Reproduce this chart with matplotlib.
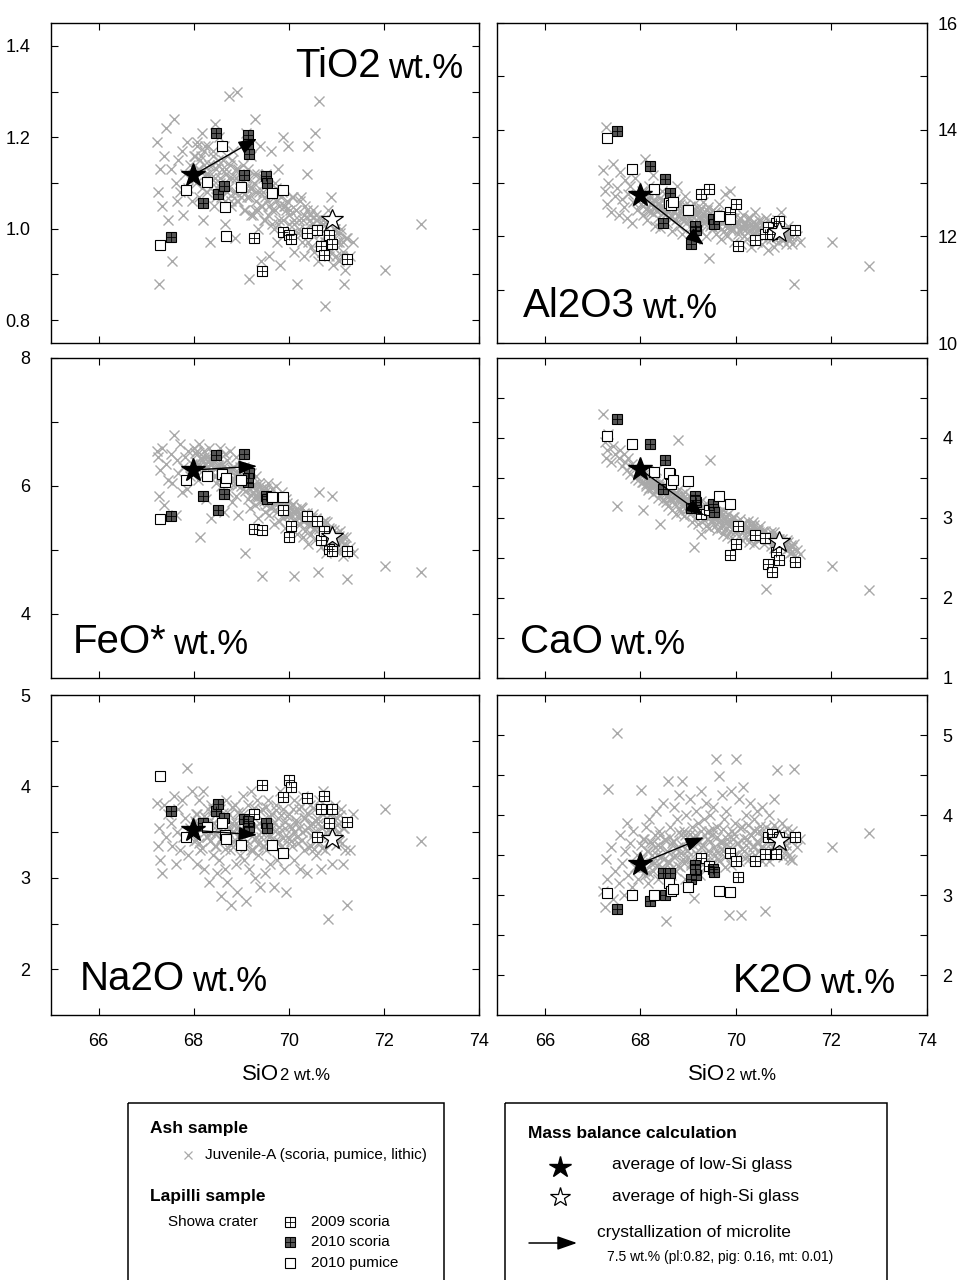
import matplotlib
matplotlib.use("Agg")
import matplotlib.pyplot as plt
from matplotlib.patches import Rectangle

plt.rcParams['font.family'] = ['Liberation Sans', 'DejaVu Sans']

# ---- Ash sample, Juvenile-A glass (grey crosses): scattered analyses ----
sio2_juv = [67.22, 67.25, 67.28, 67.30, 67.33, 67.38, 67.42, 67.47,
            67.52, 67.55, 67.58, 67.62, 67.65, 67.68, 67.72, 67.75, 67.78, 67.82, 67.85, 67.88, 67.92, 67.96,
            68.01, 68.04, 68.06, 68.09, 68.12, 68.14, 68.17, 68.19, 68.22, 68.25, 68.27, 68.30, 68.32, 68.35, 68.37, 68.40, 68.42, 68.45, 68.47, 68.49,
            68.51, 68.53, 68.56, 68.58, 68.60, 68.63, 68.65, 68.67, 68.70, 68.72, 68.74, 68.76, 68.79, 68.81, 68.83, 68.86, 68.88, 68.90, 68.92, 68.94, 68.96, 68.98,
            69.01, 69.03, 69.05, 69.08, 69.10, 69.12, 69.15, 69.17, 69.19, 69.21, 69.24, 69.26, 69.28, 69.31, 69.33, 69.35, 69.38, 69.40, 69.42, 69.44, 69.46, 69.49,
            69.51, 69.53, 69.56, 69.58, 69.61, 69.63, 69.65, 69.68, 69.70, 69.73, 69.75, 69.77, 69.80, 69.82, 69.85, 69.87, 69.90, 69.92, 69.95, 69.98,
            70.01, 70.04, 70.07, 70.10, 70.12, 70.15, 70.18, 70.21, 70.24, 70.27, 70.29, 70.32, 70.35, 70.38, 70.41, 70.44, 70.46, 70.49,
            70.52, 70.55, 70.58, 70.61, 70.64, 70.67, 70.70, 70.73, 70.76, 70.79, 70.82, 70.85, 70.88, 70.91, 70.94, 70.97,
            71.01, 71.05, 71.09, 71.13, 71.17, 71.22, 71.28, 71.34,
            72.02, 72.78]
tio2_juv = [1.19, 1.08, 0.88, 1.13, 1.05, 1.16, 1.22, 1.02,
            1.13, 0.93, 1.24, 1.10, 1.06, 1.15, 1.08, 1.17, 1.03, 1.12, 1.19, 1.09, 1.14, 1.06,
            1.16, 1.10, 1.19, 1.13, 1.07, 1.15, 1.21, 1.02, 1.17, 1.12, 1.08, 1.18, 1.14, 0.97, 1.11, 1.16, 1.05, 1.23, 1.13, 1.09,
            1.15, 1.20, 1.10, 1.07, 1.13, 1.18, 1.01, 1.12, 1.16, 1.09, 1.29, 1.14, 1.05, 1.11, 1.17, 0.98, 1.08, 1.13, 1.30, 1.06, 1.12, 1.10,
            1.08, 1.14, 1.04, 1.11, 1.21, 1.07, 1.13, 0.89, 1.09, 1.16, 1.03, 1.10, 1.24, 1.06, 1.12, 1.00, 1.08, 1.18, 0.93, 1.05, 1.11, 1.02,
            1.07, 1.12, 1.03, 0.94, 1.09, 1.17, 1.04, 1.00, 1.10, 1.06, 0.97, 1.13, 1.02, 0.92, 1.08, 1.20, 1.05, 0.99, 1.04, 1.18,
            1.03, 0.98, 1.07, 1.01, 0.95, 1.04, 0.88, 1.00, 1.06, 0.97, 1.02, 0.94, 1.05, 1.12, 1.18, 1.03, 0.96, 1.01,
            1.00, 1.21, 1.03, 0.93, 1.28, 0.99, 0.95, 1.01, 0.83, 0.97, 1.04, 0.94, 1.07, 0.98, 0.92, 1.00,
            0.97, 0.93, 1.00, 0.95, 0.88, 0.98, 0.94, 0.97,
            0.91, 1.01]
al2o3_juv = [13.25, 12.85, 14.05, 12.60, 13.00, 12.45, 13.35, 12.75,
             12.90, 12.40, 13.20, 12.70, 12.55, 13.05, 12.35, 12.80, 12.95, 12.25, 12.65, 13.10, 12.50, 12.75,
             12.60, 12.85, 12.40, 13.45, 12.70, 12.30, 12.55, 12.95, 12.45, 12.65, 13.15, 12.20, 12.50, 12.75, 12.35, 12.60, 12.15, 12.85, 12.45, 12.55,
             12.40, 12.65, 12.25, 12.50, 12.80, 12.35, 12.55, 12.10, 12.45, 12.70, 12.30, 12.95, 12.40, 12.20, 12.60, 12.35, 12.05, 12.50, 12.30, 12.75, 12.25, 12.45,
             12.35, 12.55, 12.15, 12.40, 12.25, 12.60, 11.95, 12.30, 12.45, 12.20, 12.50, 12.10, 12.35, 12.65, 12.25, 12.40, 12.00, 12.30, 12.55, 11.60, 12.20, 12.35,
             12.30, 12.15, 12.45, 12.05, 12.35, 12.20, 12.60, 11.95, 12.25, 12.40, 12.10, 12.80, 12.30, 12.00, 12.20, 12.85, 12.15, 12.35, 11.90, 12.25,
             12.20, 12.05, 12.30, 11.85, 12.15, 12.40, 12.00, 12.25, 11.95, 12.10, 12.35, 11.80, 12.20, 12.05, 12.45, 11.90, 12.15, 12.30,
             12.10, 11.85, 12.25, 12.00, 12.35, 11.75, 12.15, 11.95, 12.20, 11.80, 12.05, 12.30, 11.90, 12.10, 12.45, 11.95,
             12.05, 11.85, 12.20, 11.95, 12.10, 11.10, 12.00, 11.90,
             11.90, 11.45]
feo_juv = [6.55, 6.45, 5.85, 6.25, 6.60, 5.70, 6.35, 6.10,
           6.50, 6.05, 6.80, 5.55, 6.40, 6.20, 6.65, 5.90, 6.30, 6.45, 5.95, 6.55, 6.15, 6.35,
           6.60, 6.30, 6.50, 6.10, 6.65, 5.20, 6.40, 6.25, 6.55, 5.80, 6.45, 6.20, 6.60, 6.35, 5.50, 6.50, 6.15, 6.40, 6.05, 6.30,
           6.45, 6.20, 6.60, 6.00, 6.35, 5.60, 6.50, 6.15, 6.40, 5.90, 6.25, 6.55, 6.10, 5.75, 6.30, 6.05, 6.45, 5.85, 6.20, 5.55, 6.10, 6.30,
           6.15, 5.95, 6.30, 4.95, 6.05, 6.25, 5.80, 6.10, 5.65, 6.20, 5.90, 6.00, 5.70, 6.15, 5.85, 5.50, 6.05, 5.75, 5.95, 4.60, 5.80, 5.60,
           5.90, 5.70, 6.05, 5.55, 5.85, 5.65, 5.95, 5.40, 5.75, 6.00, 5.60, 5.80, 5.45, 5.70, 5.90, 5.50, 5.65, 5.35, 5.80, 5.55,
           5.55, 5.35, 5.70, 4.60, 5.45, 5.60, 5.25, 5.50, 5.40, 5.65, 5.20, 5.45, 5.30, 5.55, 5.10, 5.40, 5.25, 5.50,
           5.35, 5.15, 5.50, 4.65, 5.90, 5.05, 5.30, 5.20, 5.45, 4.95, 5.25, 5.35, 5.10, 5.85, 5.15, 5.00,
           5.20, 5.00, 5.15, 4.90, 5.10, 4.55, 5.05, 4.95,
           4.75, 4.65]
cao_juv = [4.30, 3.95, 3.75, 3.85, 4.05, 3.70, 3.90, 3.80,
           3.15, 3.75, 3.85, 3.65, 3.80, 3.70, 3.60, 3.75, 3.55, 3.68, 3.62, 3.50, 3.58, 3.48,
           3.55, 3.45, 3.10, 3.52, 3.40, 3.48, 3.35, 3.44, 3.50, 3.38, 3.30, 3.42, 3.60, 3.34, 3.25, 3.40, 2.93, 3.32, 3.22, 3.36,
           3.30, 3.20, 3.38, 3.15, 3.28, 3.22, 3.35, 3.10, 3.25, 3.18, 3.05, 3.28, 3.98, 3.12, 3.20, 3.08, 3.24, 3.15, 3.02, 3.18, 3.10, 3.22,
           3.12, 3.05, 3.20, 2.95, 3.10, 2.64, 3.15, 3.00, 3.08, 2.92, 3.12, 3.02, 2.80, 3.05, 2.98, 3.10, 2.90, 3.00, 3.05, 2.88, 3.72, 2.95,
           2.98, 3.05, 2.90, 3.00, 2.85, 2.95, 3.08, 2.88, 2.92, 2.80, 3.00, 2.86, 2.95, 2.78, 2.90, 2.84, 2.96, 2.75, 2.88, 2.82,
           2.85, 2.90, 2.78, 2.88, 2.72, 2.84, 2.92, 2.76, 2.82, 2.70, 2.86, 2.78, 2.95, 2.68, 2.80, 2.74, 2.85, 2.72,
           2.75, 2.82, 2.68, 2.78, 2.11, 2.72, 2.80, 2.65, 2.76, 2.62, 2.72, 2.68, 2.58, 2.74, 2.64, 2.70,
           2.66, 2.60, 2.70, 2.56, 2.64, 2.52, 2.60, 2.55,
           2.40, 2.10]
na2o_juv = [3.82, 3.35, 3.55, 3.20, 3.05, 3.80, 3.45, 3.70,
            3.60, 3.35, 3.90, 3.15, 3.50, 3.75, 3.30, 3.85, 3.45, 3.65, 4.20, 3.25, 3.55, 3.95,
            3.40, 3.70, 3.15, 3.60, 3.85, 3.30, 3.55, 3.95, 3.10, 3.65, 3.45, 3.75, 2.95, 3.50, 3.80, 3.25, 3.60, 3.35, 3.70, 3.05,
            3.55, 3.20, 3.75, 2.80, 3.45, 3.65, 3.10, 3.85, 2.95, 3.50, 3.70, 3.30, 2.70, 3.60, 3.40, 3.80, 3.15, 3.55, 2.85, 3.45, 3.70, 3.25,
            3.50, 3.90, 3.20, 3.65, 2.75, 3.40, 3.80, 3.10, 3.55, 3.95, 3.30, 3.70, 3.00, 3.45, 3.85, 3.25, 3.60, 2.90, 3.50, 3.75, 3.35, 3.05,
            3.60, 3.30, 3.85, 3.45, 3.15, 3.70, 3.55, 2.90, 3.40, 3.80, 3.20, 3.65, 3.50, 3.95, 3.35, 3.75, 3.10, 3.55, 2.85, 3.45,
            3.70, 3.40, 3.55, 3.85, 3.20, 3.60, 3.45, 3.75, 3.10, 3.50, 3.90, 3.30, 3.65, 3.05, 3.55, 3.80, 3.35, 3.60,
            3.50, 3.75, 3.25, 3.60, 3.85, 3.10, 3.55, 3.95, 3.30, 3.65, 2.55, 3.45, 3.70, 3.15, 3.55, 3.80,
            3.65, 3.40, 3.75, 3.15, 3.55, 2.70, 3.30, 3.70,
            3.75, 3.40]
k2o_juv = [3.05, 2.85, 3.45, 3.20, 4.33, 3.60, 2.95, 3.30,
           5.03, 3.15, 3.75, 3.40, 3.00, 3.55, 3.90, 3.25, 3.65, 3.10, 3.80, 3.35, 3.50, 3.20,
           4.31, 3.45, 3.70, 3.25, 3.85, 3.55, 3.15, 3.95, 3.40, 3.65, 3.30, 3.75, 4.05, 3.50, 3.20, 3.80, 3.60, 3.35, 4.15, 3.45,
           3.70, 2.68, 3.55, 4.43, 3.40, 3.85, 3.25, 3.65, 4.10, 3.50, 3.30, 3.95, 3.60, 4.25, 3.35, 3.75, 4.43, 3.45, 3.80, 3.20, 4.00, 3.55,
           3.65, 4.20, 3.40, 3.85, 3.30, 2.96, 3.75, 4.05, 3.50, 3.90, 3.25, 4.30, 3.60, 3.45, 3.95, 3.35, 4.15, 3.70, 3.55, 3.80, 4.00, 3.40,
           3.75, 4.10, 3.50, 4.70, 3.85, 3.45, 4.49, 3.65, 4.25, 3.55, 3.95, 3.35, 4.05, 3.70, 2.75, 3.60, 4.30, 3.80, 3.50, 3.90,
           4.70, 3.65, 4.20, 2.75, 3.85, 4.35, 3.55, 4.00, 3.70, 3.45, 4.15, 3.75, 3.60, 3.95, 3.50, 4.05, 3.65, 3.80,
           3.60, 4.10, 3.70, 2.80, 3.85, 3.55, 4.00, 3.65, 3.75, 4.20, 3.50, 4.56, 3.70, 3.80, 3.60, 3.90,
           3.65, 3.55, 3.75, 3.45, 3.80, 4.58, 3.60, 3.70,
           3.60, 3.77]

# ---- Juvenile-A glass: dense core of the cloud ----
sio2_core = [68.02, 68.05, 68.08, 68.11, 68.15, 68.18, 68.21, 68.24, 68.28, 68.31,
             68.34, 68.38, 68.41, 68.44, 68.48, 68.52, 68.55, 68.58, 68.62, 68.65,
             68.68, 68.71, 68.75, 68.78, 68.81, 68.85, 68.88, 68.91, 68.94, 68.97,
             69.00, 69.04, 69.07, 69.10, 69.13, 69.16, 69.20, 69.23, 69.26, 69.29,
             69.32, 69.36, 69.39, 69.42, 69.45, 69.48, 69.52, 69.55, 69.58, 69.61,
             69.64, 69.68, 69.71, 69.74, 69.77, 69.80, 69.84, 69.87, 69.90, 69.93,
             69.96, 70.00, 70.03, 70.06, 70.09, 70.12, 70.16, 70.19, 70.22, 70.25,
             70.28, 70.32, 70.35, 70.38, 70.41, 70.44, 70.48, 70.51, 70.54, 70.57,
             70.60, 70.64, 70.67, 70.70, 70.73, 70.76, 70.80, 70.83, 70.86, 70.89,
             70.92, 70.96, 70.99, 71.02, 71.05, 71.08, 71.12, 71.15, 71.18, 71.21]
tio2_core = [1.16, 1.11, 1.18, 1.13, 1.16, 1.09, 1.14, 1.18, 1.11, 1.12,
             1.09, 1.14, 1.17, 1.11, 1.07, 1.14, 1.11, 1.09, 1.15, 1.06,
             1.13, 1.08, 1.11, 1.06, 1.15, 1.08, 1.11, 1.06, 1.13, 1.09,
             1.07, 1.12, 1.04, 1.09, 1.11, 1.07, 1.03, 1.09, 1.12, 1.04,
             1.08, 1.04, 1.11, 1.05, 1.08, 1.02, 1.11, 1.06, 1.05, 1.08,
             1.01, 1.07, 1.04, 1.09, 1.01, 1.05, 1.07, 1.02, 0.99, 1.05,
             1.06, 1.01, 1.04, 0.99, 1.07, 1.02, 1.04, 0.99, 1.02, 1.07,
             0.99, 1.03, 1.00, 1.04, 0.97, 1.02, 0.99, 1.04, 0.95, 1.02,
             1.02, 0.97, 1.00, 0.95, 1.02, 0.97, 1.02, 0.97, 0.95, 0.99,
             0.96, 1.00, 0.94, 0.99, 0.97, 0.99, 0.94, 0.97, 0.91, 0.98]
al2o3_core = [12.75, 12.56, 12.79, 12.52, 12.67, 12.47, 12.73, 12.60, 12.54, 12.66,
              12.48, 12.63, 12.71, 12.53, 12.43, 12.65, 12.56, 12.46, 12.64, 12.38,
              12.59, 12.45, 12.54, 12.39, 12.65, 12.48, 12.54, 12.37, 12.58, 12.46,
              12.39, 12.56, 12.30, 12.46, 12.52, 12.40, 12.26, 12.46, 12.53, 12.29,
              12.42, 12.28, 12.50, 12.31, 12.43, 12.24, 12.50, 12.35, 12.31, 12.42,
              12.20, 12.37, 12.28, 12.42, 12.20, 12.31, 12.36, 12.21, 12.11, 12.32,
              12.35, 12.19, 12.27, 12.11, 12.34, 12.19, 12.25, 12.11, 12.20, 12.35,
              12.10, 12.24, 12.15, 12.27, 12.06, 12.20, 12.11, 12.28, 11.99, 12.20,
              12.19, 12.03, 12.15, 11.99, 12.20, 12.05, 12.21, 12.06, 11.99, 12.11,
              12.01, 12.12, 11.93, 12.08, 12.02, 12.12, 11.93, 12.01, 11.86, 12.07]
feo_core = [6.52, 6.38, 6.55, 6.31, 6.43, 6.29, 6.45, 6.35, 6.30, 6.38,
            6.22, 6.34, 6.39, 6.26, 6.16, 6.33, 6.25, 6.16, 6.30, 6.07,
            6.24, 6.12, 6.18, 6.04, 6.26, 6.11, 6.16, 6.02, 6.14, 6.06,
            6.00, 6.14, 5.92, 6.03, 6.07, 5.97, 5.86, 5.98, 6.03, 5.85,
            5.94, 5.83, 6.00, 5.84, 5.93, 5.77, 5.97, 5.83, 5.80, 5.87,
            5.69, 5.83, 5.74, 5.85, 5.67, 5.75, 5.79, 5.66, 5.56, 5.71,
            5.74, 5.60, 5.66, 5.53, 5.72, 5.59, 5.64, 5.51, 5.56, 5.67,
            5.47, 5.58, 5.50, 5.58, 5.40, 5.50, 5.42, 5.56, 5.33, 5.48,
            5.46, 5.33, 5.41, 5.28, 5.44, 5.31, 5.44, 5.31, 5.25, 5.33,
            5.23, 5.32, 5.16, 5.27, 5.22, 5.29, 5.14, 5.20, 5.07, 5.21]
cao_core = [3.54, 3.45, 3.55, 3.42, 3.48, 3.38, 3.49, 3.44, 3.40, 3.46,
            3.36, 3.42, 3.45, 3.36, 3.31, 3.41, 3.36, 3.30, 3.38, 3.25,
            3.36, 3.28, 3.31, 3.24, 3.36, 3.28, 3.30, 3.21, 3.32, 3.25,
            3.20, 3.28, 3.15, 3.21, 3.23, 3.18, 3.10, 3.19, 3.21, 3.10,
            3.15, 3.08, 3.18, 3.08, 3.12, 3.03, 3.12, 3.05, 3.04, 3.07,
            3.00, 3.08, 3.04, 3.10, 2.99, 3.03, 3.05, 2.98, 2.93, 3.01,
            3.01, 2.94, 2.95, 2.88, 2.99, 2.92, 2.94, 2.86, 2.90, 2.96,
            2.85, 2.91, 2.87, 2.91, 2.80, 2.86, 2.82, 2.90, 2.76, 2.84,
            2.84, 2.76, 2.80, 2.73, 2.82, 2.74, 2.82, 2.74, 2.70, 2.74,
            2.69, 2.74, 2.64, 2.70, 2.68, 2.72, 2.63, 2.66, 2.58, 2.67]
na2o_core = [3.62, 3.41, 3.70, 3.38, 3.55, 3.33, 3.68, 3.50, 3.45, 3.60,
             3.40, 3.58, 3.75, 3.48, 3.35, 3.66, 3.52, 3.43, 3.71, 3.32,
             3.64, 3.46, 3.55, 3.36, 3.77, 3.50, 3.60, 3.39, 3.72, 3.53,
             3.44, 3.70, 3.34, 3.58, 3.66, 3.49, 3.31, 3.62, 3.76, 3.42,
             3.57, 3.37, 3.73, 3.45, 3.63, 3.35, 3.78, 3.54, 3.48, 3.67,
             3.36, 3.60, 3.51, 3.74, 3.40, 3.56, 3.69, 3.44, 3.30, 3.61,
             3.68, 3.43, 3.57, 3.35, 3.75, 3.50, 3.63, 3.38, 3.55, 3.79,
             3.41, 3.66, 3.52, 3.71, 3.34, 3.58, 3.46, 3.76, 3.32, 3.62,
             3.65, 3.39, 3.56, 3.33, 3.70, 3.45, 3.77, 3.52, 3.40, 3.59,
             3.47, 3.64, 3.36, 3.58, 3.50, 3.69, 3.38, 3.55, 3.31, 3.62]
k2o_core = [3.62, 3.35, 3.70, 3.31, 3.55, 3.28, 3.66, 3.50, 3.40, 3.60,
            3.38, 3.62, 3.75, 3.48, 3.33, 3.69, 3.55, 3.42, 3.72, 3.32,
            3.68, 3.47, 3.58, 3.36, 3.79, 3.53, 3.63, 3.40, 3.75, 3.56,
            3.48, 3.76, 3.37, 3.62, 3.70, 3.53, 3.35, 3.66, 3.80, 3.46,
            3.62, 3.41, 3.79, 3.50, 3.68, 3.39, 3.82, 3.60, 3.55, 3.72,
            3.42, 3.68, 3.58, 3.83, 3.47, 3.64, 3.76, 3.52, 3.38, 3.70,
            3.76, 3.50, 3.65, 3.42, 3.84, 3.58, 3.71, 3.46, 3.63, 3.88,
            3.50, 3.75, 3.61, 3.81, 3.43, 3.68, 3.55, 3.86, 3.42, 3.72,
            3.76, 3.49, 3.66, 3.43, 3.81, 3.56, 3.88, 3.62, 3.50, 3.70,
            3.58, 3.76, 3.48, 3.70, 3.62, 3.82, 3.50, 3.67, 3.44, 3.74]

# ---- Lapilli sample, Showa crater ----
sio2_s09 = [69.26, 69.44, 69.88, 70.00, 70.04, 70.39, 70.60, 70.84, 70.67, 70.75, 70.91, 71.23]
tio2_s09 = [0.980, 0.907, 0.993, 0.987, 0.978, 0.991, 0.998, 0.987, 0.963, 0.943, 0.967, 0.934]
al2o3_s09 = [12.80, 12.88, 12.45, 12.60, 11.81, 11.94, 12.04, 12.25, 12.18, 12.04, 12.28, 12.11]
feo_s09 = [5.33, 5.32, 5.63, 5.20, 5.38, 5.53, 5.46, 5.02, 5.16, 5.30, 4.99, 4.98]
cao_s09 = [3.05, 3.10, 2.54, 2.67, 2.90, 2.79, 2.75, 2.57, 2.43, 2.33, 2.47, 2.45]
na2o_s09 = [3.70, 4.02, 3.88, 4.07, 3.99, 3.87, 3.45, 3.60, 3.75, 3.89, 3.75, 3.61]
k2o_s09 = [3.46, 3.36, 3.53, 3.43, 3.23, 3.43, 3.51, 3.51, 3.73, 3.76, 3.73, 3.73]

sio2_s10 = [67.52, 68.20, 68.48, 68.52, 68.63, 69.05, 69.15, 69.17, 69.53, 69.55, 69.15]
tio2_s10 = [0.982, 1.056, 1.209, 1.076, 1.094, 1.117, 1.204, 1.163, 1.115, 1.100, 1.186]
al2o3_s10 = [13.98, 13.32, 12.25, 13.07, 12.81, 11.86, 12.17, 12.12, 12.33, 12.23, 12.20]
feo_s10 = [5.53, 5.85, 6.48, 5.62, 5.87, 6.50, 6.06, 6.21, 5.85, 5.80, 6.12]
cao_s10 = [4.24, 3.92, 3.36, 3.72, 3.55, 3.13, 3.28, 3.20, 3.18, 3.07, 3.22]
na2o_s10 = [3.73, 3.60, 3.73, 3.81, 3.66, 3.64, 3.60, 3.56, 3.60, 3.55, 3.62]
k2o_s10 = [2.83, 2.92, 3.28, 3.00, 3.28, 3.20, 3.37, 3.25, 3.33, 3.29, 3.33]

sio2_p10 = [67.30, 67.83, 68.28, 68.60, 68.65, 68.69, 69.00, 69.64, 69.87]
tio2_p10 = [0.965, 1.085, 1.102, 1.181, 1.047, 0.983, 1.092, 1.079, 1.085]
al2o3_p10 = [13.85, 13.26, 12.88, 12.62, 12.58, 12.65, 12.50, 12.39, 12.33]
feo_p10 = [5.48, 6.09, 6.15, 6.19, 6.06, 6.12, 6.10, 5.83, 5.83]
cao_p10 = [4.02, 3.92, 3.58, 3.56, 3.42, 3.48, 3.46, 3.27, 3.17]
na2o_p10 = [4.11, 3.45, 3.56, 3.60, 3.47, 3.42, 3.36, 3.36, 3.27]
k2o_p10 = [3.02, 3.00, 3.00, 3.15, 3.05, 3.07, 3.10, 3.05, 3.04]

# ---- Mass balance calculation ----
sio2_low, sio2_high, sio2_cryst = 67.99, 70.90, 69.33
# TiO2, Al2O3, FeO*, CaO, Na2O, K2O
low_si = [1.117, 12.78, 6.25, 3.61, 3.52, 3.39]
high_si = [1.019, 12.08, 5.20, 2.70, 3.42, 3.675]
after_cryst = [1.197, 11.84, 6.31, 3.03, 3.47, 3.72]

oxides = ["TiO2", "Al2O3", "FeO*", "CaO", "Na2O", "K2O"]
juv = [tio2_juv, al2o3_juv, feo_juv, cao_juv, na2o_juv, k2o_juv]
core = [tio2_core, al2o3_core, feo_core, cao_core, na2o_core, k2o_core]
s09 = [tio2_s09, al2o3_s09, feo_s09, cao_s09, na2o_s09, k2o_s09]
s10 = [tio2_s10, al2o3_s10, feo_s10, cao_s10, na2o_s10, k2o_s10]
p10 = [tio2_p10, al2o3_p10, feo_p10, cao_p10, na2o_p10, k2o_p10]

ylims = [(0.75, 1.45), (10, 16), (3, 8), (1, 5), (1.5, 5), (1.5, 5.5)]
yticks = [[0.8, 1.0, 1.2, 1.4], [10, 12, 14, 16], [4, 6, 8], [1, 2, 3, 4], [2, 3, 4, 5], [2, 3, 4, 5]]
yminor = [[0.9, 1.1, 1.3], [11, 13, 15], [5, 7], [1.5, 2.5, 3.5, 4.5], [2.5, 3.5, 4.5], [2.5, 3.5, 4.5]]
label_pos = [(0.963, 0.828, True), (0.06, 0.081, False), (0.051, 0.078, False),
             (0.053, 0.078, False), (0.068, 0.078, False), (0.926, 0.069, True)]

fig = plt.figure(figsize=(9.64, 12.8), dpi=100)

col_x = [(51, 428), (497, 430)]
row_y = [343, 678, 1015]
H = 320

grey = "#a9a9a9"
dark = "#555555"


def grid_squares(ax, x, y, face, ms=7.2):
    ax.plot(x, y, ls="none", marker="s", ms=ms, mfc=face, mec="black", mew=0.8, zorder=3)
    ax.plot(x, y, ls="none", marker="+", ms=ms, mec="black", mew=0.6, zorder=3.1)


def oxide_label(ax, x, y, main, right):
    if right:
        t = ax.text(x, y, "wt.%", fontsize=25, ha="right", va="baseline", transform=ax.transAxes)
        ax.annotate(main, xy=(0, 0), xycoords=t, xytext=(-5, 0), textcoords="offset points",
                    fontsize=29, ha="right", va="bottom")
    else:
        t = ax.text(x, y, main, fontsize=29, ha="left", va="baseline", transform=ax.transAxes)
        ax.annotate("wt.%", xy=(1, 0), xycoords=t, xytext=(5, 0), textcoords="offset points",
                    fontsize=25, ha="left", va="bottom")


for i, ox in enumerate(oxides):
    row, col = divmod(i, 2)
    x0, w = col_x[col]
    ax = fig.add_axes([x0 / 964, 1 - row_y[row] / 1280, w / 964, H / 1280])

    ax.plot(sio2_juv, juv[i], ls="none", marker="x", ms=7.5, mew=1.0, color=grey, zorder=2)
    ax.plot(sio2_core, core[i], ls="none", marker="x", ms=7.5, mew=1.0, color=grey, zorder=2)
    grid_squares(ax, sio2_s09, s09[i], "white")
    grid_squares(ax, sio2_s10, s10[i], dark)
    ax.plot(sio2_p10, p10[i], ls="none", marker="s", ms=7.2, mfc="white", mec="black", mew=0.8, zorder=3.2)

    ax.annotate("", xy=(sio2_cryst, after_cryst[i]), xytext=(sio2_low, low_si[i]),
                arrowprops=dict(arrowstyle="-|>,head_length=0.75,head_width=0.28", color="black",
                                lw=1.0, shrinkA=0, shrinkB=0, mutation_scale=15), zorder=4)
    ax.plot(sio2_low, low_si[i], marker="*", ms=17.5, color="black", zorder=5)
    ax.plot(sio2_high, high_si[i], marker="*", ms=16.5, mfc="white", mec="black", mew=0.9, zorder=5)

    ax.set_xlim(65, 74)
    ax.set_ylim(*ylims[i])
    ax.set_xticks([66, 68, 70, 72, 74])
    ax.set_yticks(yticks[i])
    ax.set_yticks(yminor[i], minor=True)
    if ox == "TiO2":
        ax.set_yticklabels(["%.1f" % v for v in yticks[i]])
    else:
        ax.set_yticklabels(["%g" % v for v in yticks[i]])

    ax.tick_params(which="both", direction="in", top=True, right=True, length=5, width=0.8,
                   labelsize=13, labelbottom=(row == 2), labelleft=(col == 0), labelright=(col == 1))
    ax.tick_params(axis="x", pad=13)
    if col == 0:
        ax.tick_params(axis="y", pad=15)
    else:
        ax.tick_params(axis="y", pad=8 if ox == "Al2O3" else 11)
    for s in ax.spines.values():
        s.set_linewidth(1.0)

    lx, ly, right = label_pos[i]
    oxide_label(ax, lx, ly, ox, right)

# ---- overlay in pixel coordinates for axis titles and legend boxes ----
lg = fig.add_axes([0, 0, 1, 1])
lg.set_xlim(0, 964)
lg.set_ylim(1280, 0)
lg.axis("off")

renderer = fig.canvas.get_renderer()
for xs in (242, 688):
    t = lg.text(xs, 1080.5, "SiO", fontsize=16, va="baseline")
    x_end = lg.transData.inverted().transform((t.get_window_extent(renderer).x1, 0))[0]
    lg.text(x_end + 0.5, 1080.5, "2 wt.%", fontsize=12, va="baseline")

lg.add_patch(Rectangle((128, 1103), 316, 220, fill=False, lw=1.1, ec="black"))
lg.add_patch(Rectangle((505, 1103), 382, 220, fill=False, lw=1.1, ec="black"))

lg.text(150, 1128, "Ash sample", fontsize=12.5, fontweight="bold", va="center")
lg.plot(188, 1155, ls="none", marker="x", ms=6, mew=0.9, color=grey)
lg.text(205, 1155, "Juvenile-A (scoria, pumice, lithic)", fontsize=11, va="center")
lg.text(150, 1196, "Lapilli sample", fontsize=12.5, fontweight="bold", va="center")
lg.text(168, 1222, "Showa crater", fontsize=11, va="center")
grid_squares(lg, [290], [1222], "white", ms=7)
grid_squares(lg, [290], [1242], dark, ms=7)
lg.plot(290, 1263, ls="none", marker="s", ms=7, mfc="white", mec="black", mew=0.8)
lg.text(311, 1222, "2009 scoria", fontsize=11, va="center")
lg.text(311, 1242, "2010 scoria", fontsize=11, va="center")
lg.text(311, 1263, "2010 pumice", fontsize=11, va="center")

lg.text(528, 1133, "Mass balance calculation", fontsize=12.5, fontweight="bold", va="center")
lg.plot(560, 1167, marker="*", ms=16, color="black")
lg.text(612, 1165, "average of low-Si glass", fontsize=12.5, va="center")
lg.plot(560, 1197, marker="*", ms=15, mfc="white", mec="black", mew=0.9)
lg.text(612, 1196, "average of high-Si glass", fontsize=12.5, va="center")
lg.annotate("", xy=(577, 1243), xytext=(529, 1243),
            arrowprops=dict(arrowstyle="-|>,head_length=0.8,head_width=0.28", color="black",
                            lw=1.1, shrinkA=0, shrinkB=0, mutation_scale=15))
lg.text(597, 1233, "crystallization of microlite", fontsize=12.5, va="center")
lg.text(607, 1257, "7.5 wt.% (pl:0.82, pig: 0.16, mt: 0.01)", fontsize=10, va="center")

fig.savefig("out.png", dpi=100)
